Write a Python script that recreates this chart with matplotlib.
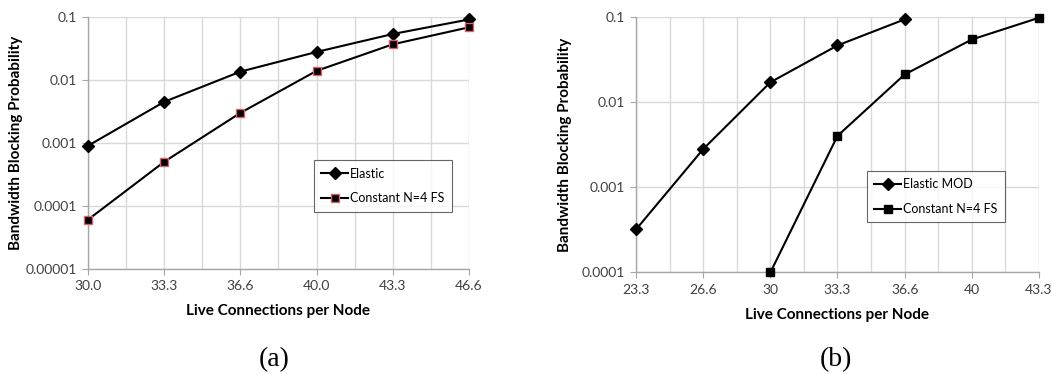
import numpy as np
import matplotlib
matplotlib.use("Agg")
import matplotlib.pyplot as plt

plt.rcParams['font.family'] = ['Lato', 'DejaVu Sans']

# (a) blocking vs load, elastic vs constant spectrum allocation
loads_a = ['30.0', '33.3', '36.6', '40.0', '43.3', '46.6']
elastic_a = [0.0009, 0.0045, 0.0136, 0.028, 0.054, 0.092]
constant_a = [0.00006, 0.0005, 0.003, 0.014, 0.037, 0.069]
yticks_a = [0.00001, 0.0001, 0.001, 0.01, 0.1]
ylabels_a = ['0.00001', '0.0001', '0.001', '0.01', '0.1']

# (b) elastic modulation vs constant N=4 FS
loads_b = ['23.3', '26.6', '30', '33.3', '36.6', '40', '43.3']
elastic_b = [0.00032, 0.0028, 0.017, 0.046, 0.093, None, None]
constant_b = [None, None, 0.0001, 0.004, 0.021, 0.054, 0.097]
yticks_b = [0.0001, 0.001, 0.01, 0.1]
ylabels_b = ['0.0001', '0.001', '0.01', '0.1']

GRID = '#d9d9d9'
AXIS = '#a6a6a6'


def to_arr(vals):
    return np.array([np.nan if v is None else v for v in vals], dtype=float)


def setup_axes(ax, cats, yticks, ylabels, ypad):
    n = len(cats)
    ax.set_yscale('log')
    ax.set_ylim(yticks[0], yticks[-1])
    ax.set_xlim(0, n - 1)
    ax.set_yticks(yticks)
    ax.set_yticklabels(ylabels)
    ax.yaxis.set_minor_locator(plt.NullLocator())
    ax.set_xticks(range(n))
    ax.set_xticklabels(cats)
    ax.set_xticks(np.arange(0.5, n - 1, 1.0), minor=True)
    ax.grid(True, which='both', axis='x', color=GRID, lw=1.0)
    ax.grid(True, which='major', axis='y', color=GRID, lw=1.0)
    ax.set_axisbelow(True)
    for s in ['top', 'right']:
        ax.spines[s].set_visible(False)
    for s in ['left', 'bottom']:
        ax.spines[s].set_color(AXIS)
        ax.spines[s].set_linewidth(1.0)
    ax.tick_params(axis='both', which='major', length=4, color=AXIS,
                   labelsize=10, labelcolor='#404040', pad=4)
    ax.tick_params(axis='x', which='minor', length=0)
    ax.set_xlabel('Live Connections per Node', fontsize=11, fontweight='bold',
                  labelpad=9)
    ax.set_ylabel('Bandwidth Blocking Probability', fontsize=11,
                  fontweight='bold', labelpad=ypad)


def add_legend(ax, x0, y0):
    leg = ax.legend(loc='upper left', bbox_to_anchor=(x0, y0), fontsize=9,
                    frameon=True, fancybox=False, handlelength=2.1,
                    borderpad=0.6, labelspacing=1.0, handletextpad=0.2,
                    borderaxespad=0)
    leg.get_frame().set_edgecolor('#404040')
    leg.get_frame().set_linewidth(0.8)


fig = plt.figure(figsize=(10.52, 3.74), dpi=100)

ax1 = fig.add_axes([0.0837, 0.282, 0.362, 0.672])
x = np.arange(len(loads_a))
ax1.plot(x, elastic_a, color='black', lw=1.5, marker='D', ms=6,
         mfc='black', mec='black', label='Elastic', clip_on=False, zorder=3)
ax1.plot(x, constant_a, color='black', lw=1.5, marker='s', ms=6,
         mfc='black', mec='#d9626a', mew=1.0, label='Constant N=4 FS',
         clip_on=False, zorder=3)
setup_axes(ax1, loads_a, yticks_a, ylabels_a, ypad=2)
add_legend(ax1, 0.593, 0.431)

ax2 = fig.add_axes([0.6046, 0.2714, 0.383, 0.684])
x = np.arange(len(loads_b))
ax2.plot(x, to_arr(elastic_b), color='black', lw=1.5, marker='D', ms=6,
         label='Elastic MOD', clip_on=False, zorder=3)
ax2.plot(x, to_arr(constant_b), color='black', lw=1.5, marker='s', ms=6,
         label='Constant N=4 FS', clip_on=False, zorder=3)
setup_axes(ax2, loads_b, yticks_b, ylabels_b, ypad=7)
add_legend(ax2, 0.573, 0.397)

fig.text(0.261, 0.006, '(a)', fontsize=20, family='Liberation Serif',
         ha='center', va='bottom')
fig.text(0.795, 0.006, '(b)', fontsize=20, family='Liberation Serif',
         ha='center', va='bottom')

fig.savefig('out.png', dpi=100)
